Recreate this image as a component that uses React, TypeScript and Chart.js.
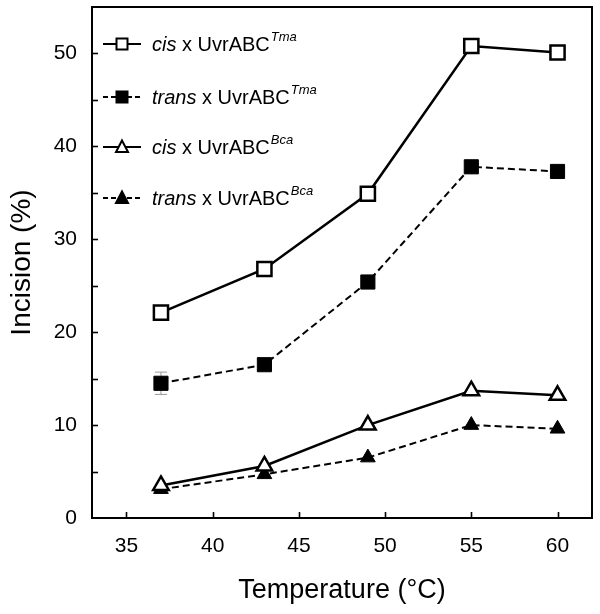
import React, { useEffect, useRef } from 'react';
import { Chart, registerables } from 'chart.js';

Chart.register(...registerables);

const temperatures = [37, 43, 49, 55, 60];
const cisTma = [22.1, 26.8, 34.9, 50.8, 50.1];
const transTma = [14.5, 16.5, 25.4, 37.8, 37.3];
const transTmaErr = [1.2, 0, 0, 0, 0];
const cisBca = [3.5, 5.6, 10.0, 13.7, 13.2];
const transBca = [3.1, 4.7, 6.5, 10.0, 9.6];

const xTicks = [35, 40, 45, 50, 55, 60];
const yTicks = [0, 5, 10, 15, 20, 25, 30, 35, 40, 45, 50];
const yLabelled = [0, 10, 20, 30, 40, 50];

const legendEntries = [
  { italic: 'cis', main: ' x UvrABC', sup: 'Tma', marker: 'rect', filled: false, dashed: false },
  { italic: 'trans', main: ' x UvrABC', sup: 'Tma', marker: 'rect', filled: true, dashed: true },
  { italic: 'cis', main: ' x UvrABC', sup: 'Bca', marker: 'triangle', filled: false, dashed: false },
  { italic: 'trans', main: ' x UvrABC', sup: 'Bca', marker: 'triangle', filled: true, dashed: true },
];

const FONT = '"Liberation Sans", Arial, Helvetica, sans-serif';

const pts = (ys: number[]) => temperatures.map((x, i) => ({ x, y: ys[i] }));

const framePlugin = {
  id: 'frame',
  beforeDatasetsDraw(chart: any) {
    const { ctx, chartArea: a, scales } = chart;
    ctx.save();
    ctx.strokeStyle = '#000';
    ctx.lineWidth = 2;
    ctx.strokeRect(a.left, a.top, a.right - a.left, a.bottom - a.top);
    // inward ticks
    ctx.lineWidth = 1.6;
    xTicks.forEach((v) => {
      const px = Math.round(scales.x.getPixelForValue(v)) + 0.5;
      ctx.beginPath();
      ctx.moveTo(px, a.bottom);
      ctx.lineTo(px, a.bottom - 6);
      ctx.stroke();
    });
    yTicks.forEach((v) => {
      if (v === 0) return;
      const py = Math.round(scales.y.getPixelForValue(v)) + 0.5;
      ctx.beginPath();
      ctx.moveTo(a.left, py);
      ctx.lineTo(a.left + 6, py);
      ctx.stroke();
    });
    // error bars
    ctx.strokeStyle = '#999';
    ctx.lineWidth = 1;
    temperatures.forEach((t, i) => {
      const e = transTmaErr[i];
      if (!e) return;
      const px = scales.x.getPixelForValue(t);
      const top = scales.y.getPixelForValue(transTma[i] + e);
      const bot = scales.y.getPixelForValue(transTma[i] - e);
      ctx.beginPath();
      ctx.moveTo(px, top);
      ctx.lineTo(px, bot);
      ctx.moveTo(px - 6, top);
      ctx.lineTo(px + 6, top);
      ctx.moveTo(px - 6, bot);
      ctx.lineTo(px + 6, bot);
      ctx.stroke();
    });
    ctx.restore();
  },
  afterDraw(chart: any) {
    const { ctx, chartArea: a } = chart;
    const rowYs = [44, 97, 147, 198];
    ctx.save();
    legendEntries.forEach((en, i) => {
      const y = a.top + rowYs[i] - 7;
      const x0 = a.left + 11;
      const x1 = a.left + 49;
      const xm = a.left + 30;
      ctx.strokeStyle = '#000';
      ctx.lineWidth = 2;
      ctx.setLineDash(en.dashed ? [5, 3] : []);
      ctx.beginPath();
      ctx.moveTo(x0, y);
      ctx.lineTo(x1, y);
      ctx.stroke();
      ctx.setLineDash([]);
      ctx.fillStyle = en.filled ? '#000' : '#fff';
      ctx.lineWidth = 2;
      ctx.beginPath();
      if (en.marker === 'rect') {
        ctx.rect(xm - 5.5, y - 5.5, 11, 11);
      } else {
        ctx.moveTo(xm, y - 6.5);
        ctx.lineTo(xm + 6, y + 5);
        ctx.lineTo(xm - 6, y + 5);
        ctx.closePath();
      }
      ctx.fill();
      ctx.stroke();
      // text
      let tx = a.left + 60;
      ctx.fillStyle = '#000';
      ctx.textBaseline = 'middle';
      ctx.textAlign = 'left';
      ctx.font = `italic 20px ${FONT}`;
      ctx.fillText(en.italic, tx, y + 1);
      tx += ctx.measureText(en.italic).width;
      ctx.font = `20px ${FONT}`;
      ctx.fillText(en.main, tx, y + 1);
      tx += ctx.measureText(en.main).width + 1;
      ctx.font = `italic 13px ${FONT}`;
      ctx.fillText(en.sup, tx, y - 7);
    });
    ctx.restore();
  },
};

export default function App() {
  const ref = useRef<HTMLCanvasElement>(null);
  useEffect(() => {
    if (!ref.current) return;
    const solid = { borderColor: '#000', borderWidth: 2.5, pointBorderColor: '#000', pointBorderWidth: 2.5 };
    const dashed = { borderColor: '#000', borderWidth: 2, borderDash: [7, 4], pointBorderColor: '#000', pointBorderWidth: 1 };
    const chart = new Chart(ref.current, {
      type: 'line',
      data: {
        datasets: [
          { label: 'cis x UvrABC Tma', data: pts(cisTma), ...solid, pointStyle: 'rect', pointRadius: 10, pointBackgroundColor: '#fff' },
          { label: 'trans x UvrABC Tma', data: pts(transTma), ...dashed, pointStyle: 'rect', pointRadius: 10, pointBackgroundColor: '#000' },
          { label: 'cis x UvrABC Bca', data: pts(cisBca), ...solid, pointStyle: 'triangle', pointRadius: 9, pointBackgroundColor: '#fff' },
          { label: 'trans x UvrABC Bca', data: pts(transBca), ...dashed, pointStyle: 'triangle', pointRadius: 8.5, pointBackgroundColor: '#000' },
        ] as any,
      },
      options: {
        animation: false,
        responsive: true,
        maintainAspectRatio: false,
        layout: { autoPadding: false, padding: { top: 7, right: 8, left: 0, bottom: 0 } },
        plugins: { legend: { display: false }, tooltip: { enabled: false } },
        scales: {
          x: {
            type: 'linear',
            min: 33,
            max: 62,
            grid: { display: false, drawTicks: false },
            border: { display: false },
            afterBuildTicks: (s: any) => { s.ticks = xTicks.map((v) => ({ value: v })); },
            afterFit: (s: any) => { s.height = 96; s.paddingLeft = 0; s.paddingRight = 0; },
            ticks: { color: '#000', padding: 16, font: { family: FONT, size: 21 }, maxRotation: 0 },
            title: { display: true, text: 'Temperature (°C)', color: '#000', font: { family: FONT, size: 27 }, padding: { top: 0, bottom: 7 } },
          },
          y: {
            type: 'linear',
            min: 0,
            max: 55,
            grid: { display: false, drawTicks: false },
            border: { display: false },
            afterBuildTicks: (s: any) => { s.ticks = yTicks.map((v) => ({ value: v })); },
            afterFit: (s: any) => { s.width = 92; s.paddingTop = 0; s.paddingBottom = 0; },
            ticks: {
              color: '#000',
              padding: 15,
              font: { family: FONT, size: 21 },
              callback: (v: any) => (yLabelled.includes(Number(v)) ? String(v) : ''),
            },
            title: { display: true, text: 'Incision (%)', color: '#000', font: { family: FONT, size: 28 }, padding: { top: 5, bottom: 0 } },
          },
        },
      } as any,
      plugins: [framePlugin],
    });
    return () => chart.destroy();
  }, []);
  return (
    <div style={{ position: 'absolute', left: 0, top: 0, width: 600, height: 614, background: '#fff' }}>
      <canvas ref={ref} />
    </div>
  );
}
